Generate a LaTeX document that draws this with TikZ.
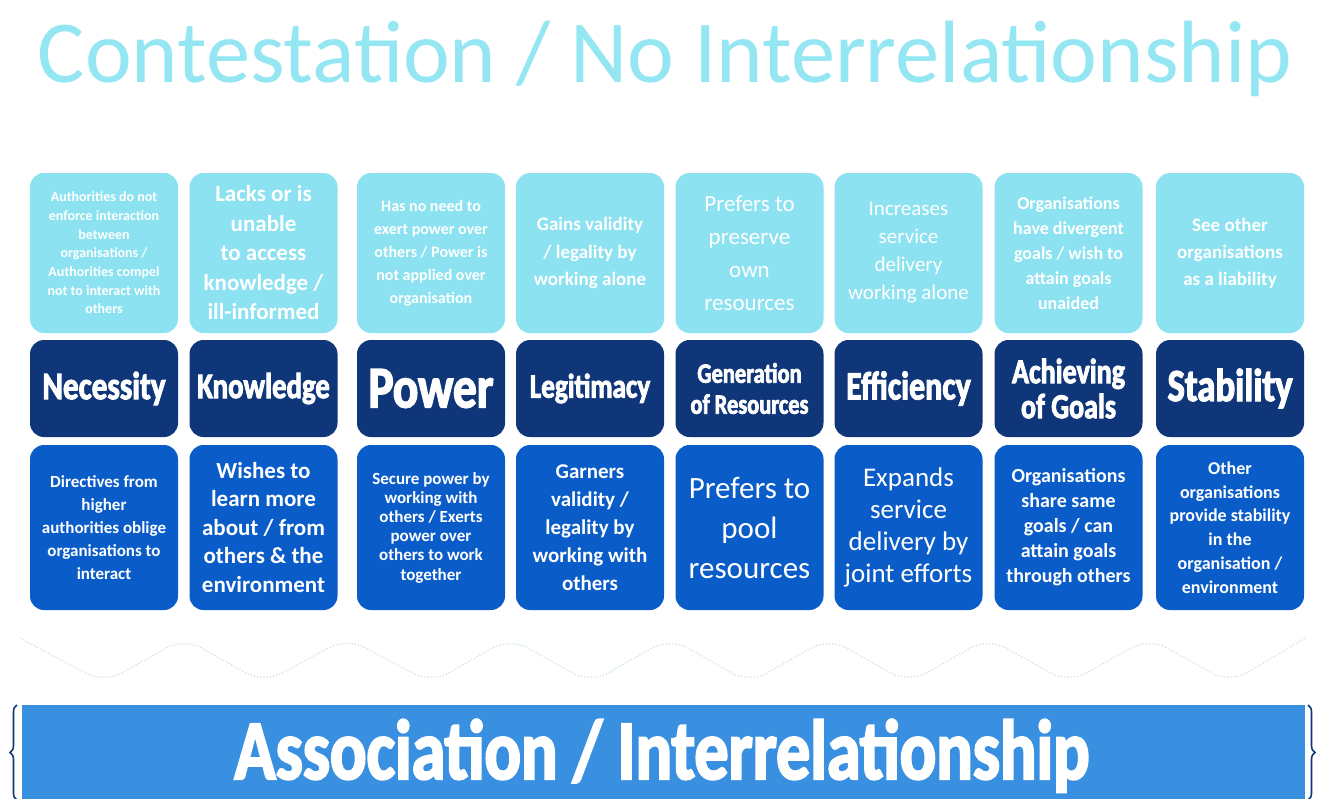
\documentclass[tikz,border=0pt]{standalone}
\usepackage{fontspec}
\setmainfont{Carlito}
\newfontfamily\narrowsans{Carlito}[FakeStretch=0.8]
\newfontfamily\heavysans{Carlito Bold}[FakeStretch=0.8, FakeBold=2.5]
\usetikzlibrary{decorations.pathreplacing}

\definecolor{titlecyan}{RGB}{148,230,243}
\definecolor{palecyan}{RGB}{140,226,240}
\definecolor{navy}{RGB}{14,54,120}
\definecolor{midblue}{RGB}{10,92,200}
\definecolor{barblue}{RGB}{58,144,224}
\definecolor{faintline}{RGB}{200,226,234}

\newcommand{\boxsize}[2]{\fontsize{#1}{#2}\selectfont}

\begin{document}
\begin{tikzpicture}[x=1pt, y=-1pt,
	box/.style={rounded corners=14pt, minimum width=148pt, inner sep=0pt, text=white, align=center},
	pale/.style={box, fill=palecyan, minimum height=160pt},
	factor/.style={box, fill=navy, minimum height=97pt},
	effect/.style={box, fill=midblue, minimum height=165pt}]
\useasboundingbox[fill=white] (0,0) rectangle (1325,798);

\node[anchor=base, text=titlecyan, font=\boxsize{88.5}{90}] at (665,82) (title) {Contestation / No Interrelationship};

% contestation side
\node[pale, font=\bfseries\boxsize{14}{18.7}] at (104,253) (cnec) {Authorities do not\\enforce interaction\\between\\organisations /\\Authorities compel\\not to interact with\\others};
\node[pale, font=\bfseries\boxsize{23}{29.5}] at (263.5,253) (cknow) {Lacks or is\\unable\\to access\\knowledge /\\ill-informed};
\node[pale, font=\bfseries\boxsize{16}{23}] at (431,253) (cpow) {Has no need to\\exert power over\\others / Power is\\not applied over\\organisation};
\node[pale, font=\bfseries\boxsize{19}{27.5}] at (590,253) (cleg) {Gains validity\\/ legality by\\working alone};
\node[pale, font=\boxsize{23}{33}] at (749.5,253) (cgen) {Prefers to\\preserve\\own\\resources};
\node[pale, font=\boxsize{21}{28}] at (908.5,253) (ceff) {Increases\\service\\delivery\\working alone};
\node[pale, font=\bfseries\boxsize{18}{25}] at (1068.5,253) (cach) {Organisations\\have divergent\\goals / wish to\\attain goals\\unaided};
\node[pale, font=\bfseries\boxsize{19}{27}] at (1230,253) (cstab) {See other\\organisations\\as a liability};

% the eight factors
\node[factor, font=\heavysans\boxsize{39}{40}] at (104,388.5) (nec) {Necessity};
\node[factor, font=\heavysans\boxsize{36}{37}] at (263.5,388.5) (know) {Knowledge};
\node[factor, font=\heavysans\boxsize{59}{60}] at (431,388.5) (pow) {Power};
\node[factor, font=\heavysans\boxsize{34}{35}] at (590,388.5) (leg) {Legitimacy};
\node[factor, font=\heavysans\boxsize{28}{31}] at (749.5,388.5) (gen) {Generation\\of Resources};
\node[factor, font=\heavysans\boxsize{40}{41}] at (908.5,388.5) (eff) {Efficiency};
\node[factor, font=\heavysans\boxsize{35}{35}] at (1068.5,388.5) (ach) {Achieving\\of Goals};
\node[factor, font=\heavysans\boxsize{46}{47}] at (1230,388.5) (stab) {Stability};

% association side
\node[effect, font=\bfseries\boxsize{17}{23}] at (104,527.5) (anec) {Directives from\\higher\\authorities oblige\\organisations to\\interact};
\node[effect, font=\bfseries\boxsize{23}{28.5}] at (263.5,527.5) (aknow) {Wishes to\\learn more\\about / from\\others \& the\\environment};
\node[effect, font=\bfseries\boxsize{17}{19.2}] at (431,527.5) (apow) {Secure power by\\working with\\others / Exerts\\power over\\others to work\\together};
\node[effect, font=\bfseries\boxsize{21}{28}] at (590,527.5) (aleg) {Garners\\validity /\\legality by\\working with\\others};
\node[effect, font=\boxsize{31}{40}] at (749.5,527.5) (agen) {Prefers to\\pool\\resources};
\node[effect, font=\boxsize{27}{32}] at (908.5,527.5) (aeff) {Expands\\service\\delivery by\\joint efforts};
\node[effect, font=\bfseries\boxsize{20}{25}] at (1068.5,527.5) (aach) {Organisations\\share same\\goals / can\\attain goals\\through others};
\node[effect, font=\bfseries\boxsize{18}{23.8}] at (1230,527.5) (astab) {Other\\organisations\\provide stability\\in the\\organisation /\\environment};

% faint zigzag under the boxes
\draw[faintline, dotted, line width=1.2pt, rounded corners=20pt] (20,638) -- (104,683) -- (184,638) -- (263.5,683) -- (347,638) -- (431,683) -- (510,638) -- (590,683) -- (670,638) -- (749.5,683) -- (829,638) -- (908.5,683) -- (988,638) -- (1068.5,683) -- (1149,638) -- (1230,683) -- (1305,638);

\fill[barblue] (22,705) rectangle (1305,812);
\node[anchor=base, text=white, font=\heavysans\boxsize{85}{88}] at (662,779) (assoc) {Association / Interrelationship};

\begin{scope}[navy, line width=1.6pt, decoration={brace, amplitude=7pt}]
	\draw[decorate] (17,800) -- (17,705);
	\draw[decorate] (1308,705) -- (1308,800);
\end{scope}
\end{tikzpicture}
\end{document}
